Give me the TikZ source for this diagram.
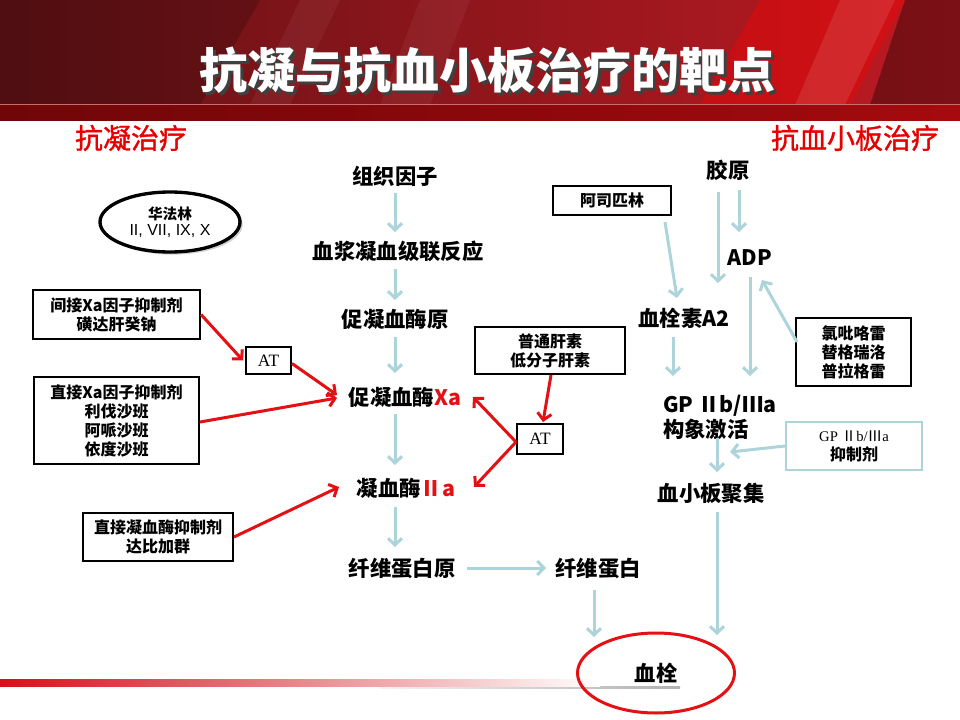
\documentclass[tikz,border=0pt]{standalone}
\usepackage{fontspec}
\setmainfont{Noto Sans CJK SC}
\newfontfamily\serifa{Liberation Serif}
\newfontfamily\arial{Liberation Sans}
\newfontfamily\headfont{Noto Sans CJK SC}[FakeBold=1.2]
\usetikzlibrary{arrows.meta,shapes.geometric,shadows}

\definecolor{arrblue}{RGB}{172,212,218}
\definecolor{myred}{RGB}{228,16,20}
\definecolor{headred}{RGB}{232,0,0}
\definecolor{hdA}{RGB}{98,18,22}
\definecolor{hdM}{RGB}{140,20,26}
\definecolor{hdB}{RGB}{190,26,34}
\definecolor{bandA}{RGB}{112,6,8}
\definecolor{bandB}{RGB}{165,10,14}

\newcommand{\titletext}{抗凝与抗血小板治疗的靶点}

\tikzset{
  mainlbl/.style={font=\fontsize{16}{19}\selectfont\bfseries, inner sep=0pt},
  boxnode/.style={draw=black, line width=1.5pt, fill=white, align=center, inner sep=0pt,
    font=\fontsize{12}{14.25}\selectfont\bfseries},
  atbox/.style={boxnode, font=\serifa\fontsize{13}{15}\selectfont},
  bluearr/.style={draw=arrblue, line width=2.25pt, -{Straight Barb[length=5pt,width=10.5pt]}},
  redarr/.style={draw=myred, line width=2.25pt, -{Straight Barb[length=5pt,width=10.5pt]}},
  heading/.style={text=headred, font=\headfont\fontsize{21}{24}\selectfont, inner sep=0pt},
}

\begin{document}
\begin{tikzpicture}[x=0.75pt,y=-0.75pt]
\useasboundingbox (0,0) rectangle (960,720);
% ---------- header ----------
\shade[left color=hdA, middle color=hdM, right color=hdB] (0,0) rectangle (960,105);
\fill[black, opacity=.18] (0,0) -- (260,0) -- (200,105) -- (0,105) -- cycle;
\fill[white, opacity=.05] (300,0) -- (340,0) -- (290,105) -- (250,105) -- cycle;
\fill[white, opacity=.05] (420,0) -- (470,0) -- (430,105) -- (380,105) -- cycle;
\fill[red, opacity=.35] (760,0) -- (905,0) -- (850,105) -- (700,105) -- cycle;
\fill[white, opacity=.10] (840,0) -- (895,0) -- (845,105) -- (795,105) -- cycle;
\fill[black, opacity=.35] (905,0) -- (960,0) -- (960,105) -- (870,105) -- cycle;
\shade[left color=bandA, right color=bandB] (0,105) rectangle (960,121);
\draw[color={rgb,255:red,200;green,110;blue,110}, line width=.75pt] (0,105) -- (960,105);
\node[font=\fontsize{36}{40}\selectfont\bfseries, inner sep=0pt] (title) at (487,72)
  {\makebox[0pt][l]{\hspace{2.25pt}\raisebox{-2.25pt}{\textcolor{black!75}{\titletext}}}\textcolor{white}{\titletext}};
% ---------- bottom bar ----------
\shade[left color=gray!10, right color=gray!60] (380,686) rectangle (680,688.5);
\shade[left color={rgb,255:red,212;green,16;blue,26}, right color=white] (0,679) rectangle (600,686);
% ---------- headings ----------
\node[heading] (hl) at (131,138) {抗凝治疗};
\node[heading] (hr) at (855,138) {抗血小板治疗};
% ---------- coagulation chain ----------
\node[mainlbl] (tf) at (395,176) {组织因子};
\node[mainlbl] (plasma) at (398,251) {血浆凝血级联反应};
\node[mainlbl] (prothr) at (395,319) {促凝血酶原};
\node[mainlbl] (xa) at (405,397) {促凝血酶\textcolor{myred}{Xa}};
\node[mainlbl] (iia) at (406,488) {凝血酶\textcolor{myred}{Ⅱa}};
\node[mainlbl] (fib0) at (402,568) {纤维蛋白原};
\node[mainlbl] (fib) at (598,568) {纤维蛋白};
\node[ellipse, draw=myred, line width=2.25pt, minimum width=117.75pt, minimum height=60pt,
  inner sep=0pt, font=\fontsize{16}{19}\selectfont\bfseries] (clot) at (656,673) {血栓};
% ---------- platelet chain ----------
\node[mainlbl] (col) at (728,170) {胶原};
\node[mainlbl] (adp) at (750,258) {ADP};
\node[mainlbl] (txa) at (684,318) {血栓素A2};
\node[mainlbl, align=left, anchor=west, font=\fontsize{16}{18.75}\selectfont\bfseries] (gp) at (663,417.5) {GP Ⅱb/Ⅲa\\构象激活};
\node[mainlbl] (plate) at (711,493) {血小板聚集};
% ---------- drug boxes ----------
\node[ellipse, draw=black, line width=2.5pt, fill=white, minimum width=105pt, minimum height=45pt,
  inner sep=0pt, align=center, drop shadow={shadow xshift=2pt, shadow yshift=-2pt, opacity=.35}] (war) at (170,222)
  {{\bfseries\fontsize{11}{15}\selectfont 华法林}\\{\arial\fontsize{12}{15}\selectfont II, VII, IX, X}};
\node[boxnode, minimum width=125.25pt, minimum height=36.75pt] (ind) at (116.5,314.5) {间接Xa因子抑制剂\\磺达肝癸钠};
\node[atbox, minimum width=33.75pt, minimum height=20.25pt] (atL) at (268.5,360.5) {AT};
\node[boxnode, minimum width=123.75pt, minimum height=65.25pt] (dir) at (116.5,420.5) {直接Xa因子抑制剂\\利伐沙班\\阿哌沙班\\依度沙班};
\node[boxnode, minimum width=112.5pt, minimum height=36pt] (dth) at (158,537) {直接凝血酶抑制剂\\达比加群};
\node[boxnode, minimum width=112.5pt, minimum height=35.25pt] (hep) at (550,350.5) {普通肝素\\低分子肝素};
\node[atbox, minimum width=34.5pt, minimum height=22.5pt] (atR) at (540,439) {AT};
\node[boxnode, minimum width=88.5pt, minimum height=21.75pt] (asp) at (612,200.5) {阿司匹林};
\node[boxnode, minimum width=86.25pt, minimum height=51pt] (clop) at (853.5,352) {氯吡咯雷\\替格瑞洛\\普拉格雷};
\node[boxnode, draw=arrblue, minimum width=102pt, minimum height=36pt] (gpi) at (854,446)
  {{\mdseries\fontsize{11}{14}\selectfont{\serifa GP }Ⅱ{\serifa b/}Ⅲ{\serifa a}}\\抑制剂};
% ---------- blue connectors ----------
\draw[bluearr] ([shift={(0,17)}]tf.center) -- ([shift={(-3,-19)}]plasma.center);
\draw[bluearr] ([shift={(-3,18)}]plasma.center) -- ([shift={(0,-19)}]prothr.center);
\draw[bluearr] ([shift={(0,18)}]prothr.center) -- ([shift={(-10,-24)}]xa.center);
\draw[bluearr] ([shift={(-10,17)}]xa.center) -- ([shift={(-11,-23)}]iia.center);
\draw[bluearr] ([shift={(-11,19)}]iia.center) -- ([shift={(-7,-21)}]fib0.center);
\draw[bluearr] ([shift={(65,0)}]fib0.center) -- ([shift={(-52,0)}]fib.center);
\draw[bluearr] ([shift={(-4,22)}]fib.center) -- ([shift={(-62,-36)}]clot.center);
\draw[bluearr] ([shift={(6,19)}]plate.center) -- ([shift={(61,-38)}]clot.center);
\draw[bluearr] ([shift={(11,20)}]col.center) -- ([shift={(-11,-26)}]adp.center);
\draw[bluearr] ([shift={(-10,22)}]col.center) -- ([shift={(34,-35)}]txa.center);
\draw[bluearr] ([shift={(53,21.5)}]asp.center) -- ([shift={(-7,-20)}]txa.center);
\draw[bluearr] ([shift={(-11,19)}]txa.center) -- ([shift={(10,-41.5)}]gp.west);
\draw[bluearr] ([shift={(0,19)}]adp.center) -- ([shift={(87,-41.5)}]gp.west);
\draw[bluearr] ([shift={(-56.5,-10)}]clop.center) -- ([shift={(12,22)}]adp.center);
\draw[bluearr] ([shift={(54,20.5)}]gp.west) -- ([shift={(6,-21)}]plate.center);
\draw[bluearr] (gpi.west) -- ([shift={(67,34.5)}]gp.west);
% ---------- red connectors ----------
\draw[redarr] (ind.east) -- ([shift={(-2,0)}]atL.west);
\draw[redarr] ([shift={(0,3)}]atL.east) -- ([shift={(-68,-2)}]xa.center);
\draw[redarr] ([shift={(0,1.5)}]dir.east) -- ([shift={(-68,1)}]xa.center);
\draw[redarr] (dth.east) -- ([shift={(-67,-1)}]iia.center);
\draw[redarr] ([shift={(1,0)}]hep.south) -- ([shift={(3,-17)}]atR.center);
\draw[redarr] ([shift={(0,3)}]atR.west) -- ([shift={(68,0)}]xa.center);
\draw[redarr] ([shift={(0,3)}]atR.west) -- ([shift={(68,-1)}]iia.center);
\end{tikzpicture}
\end{document}
